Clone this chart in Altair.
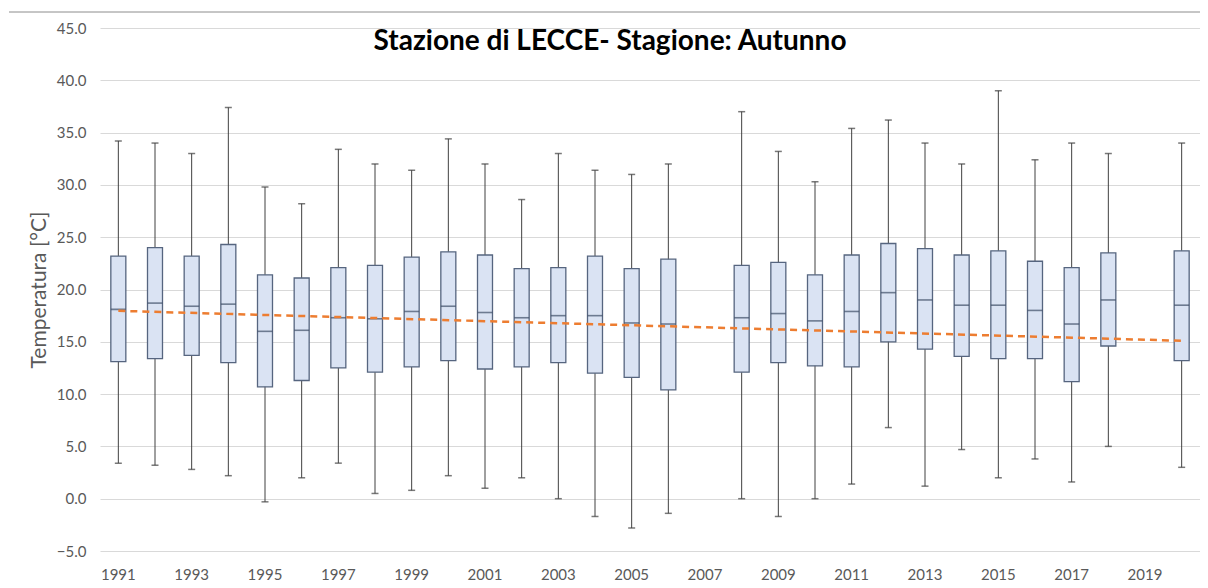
import altair as alt
import pandas as pd

# Categories on the axis (2007 and 2019 have no data)
all_years = ["1991", "1992", "1993", "1994", "1995", "1996", "1997", "1998", "1999", "2000",
             "2001", "2002", "2003", "2004", "2005", "2006", "2007", "2008", "2009", "2010",
             "2011", "2012", "2013", "2014", "2015", "2016", "2017", "2018", "2019", "2020"]
label_years = ["1991", "1993", "1995", "1997", "1999", "2001", "2003", "2005", "2007",
               "2009", "2011", "2013", "2015", "2017", "2019"]

years = ["1991", "1992", "1993", "1994", "1995", "1996", "1997", "1998", "1999", "2000",
         "2001", "2002", "2003", "2004", "2005", "2006", "2008", "2009", "2010",
         "2011", "2012", "2013", "2014", "2015", "2016", "2017", "2018", "2020"]
y_max = [34.2, 34.0, 33.0, 37.4, 29.8, 28.2, 33.4, 32.0, 31.4, 34.4,
         32.0, 28.6, 33.0, 31.4, 31.0, 32.0, 37.0, 33.2, 30.3,
         35.4, 36.2, 34.0, 32.0, 39.0, 32.4, 34.0, 33.0, 34.0]
y_q3 = [23.2, 24.0, 23.2, 24.3, 21.4, 21.1, 22.1, 22.3, 23.1, 23.6,
        23.3, 22.0, 22.1, 23.2, 22.0, 22.9, 22.3, 22.6, 21.4,
        23.3, 24.4, 23.9, 23.3, 23.7, 22.7, 22.1, 23.5, 23.7]
y_med = [18.1, 18.7, 18.4, 18.6, 16.0, 16.1, 17.3, 17.2, 17.9, 18.4,
         17.8, 17.3, 17.5, 17.5, 16.8, 16.7, 17.3, 17.7, 17.0,
         17.9, 19.7, 19.0, 18.5, 18.5, 18.0, 16.7, 19.0, 18.5]
y_q1 = [13.1, 13.4, 13.7, 13.0, 10.7, 11.3, 12.5, 12.1, 12.6, 13.2,
        12.4, 12.6, 13.0, 12.0, 11.6, 10.4, 12.1, 13.0, 12.7,
        12.6, 15.0, 14.3, 13.6, 13.4, 13.4, 11.2, 14.6, 13.2]
y_min = [3.4, 3.2, 2.8, 2.2, -0.3, 2.0, 3.4, 0.5, 0.8, 2.2,
         1.0, 2.0, 0.0, -1.7, -2.8, -1.4, 0.0, -1.7, 0.0,
         1.4, 6.8, 1.2, 4.7, 2.0, 3.8, 1.6, 5.0, 3.0]

trend_years = ["1991", "2020"]
trend_vals = [17.96, 15.1]

y_ticks = [-5, 0, 5, 10, 15, 20, 25, 30, 35, 40, 45]

df = pd.DataFrame({"year": years, "min": y_min, "q1": y_q1, "med": y_med,
                   "q3": y_q3, "max": y_max})
trend = pd.DataFrame({"year": trend_years, "t": trend_vals})

FONT = "Lato"
W, H = 1100, 523

xscale = alt.Scale(domain=all_years, paddingInner=0, paddingOuter=0)
yscale = alt.Scale(domain=[-5, 45], nice=False, zero=False)

x_enc = alt.X("year:N", scale=xscale, sort=None,
              axis=alt.Axis(title=None, values=label_years, labelAngle=0, ticks=False,
                            domain=False, grid=False, labelFont=FONT, labelFontSize=15,
                            labelColor="#595959", labelPadding=16))

base = alt.Chart(df)

whisk = base.mark_rule(color="#404040", strokeWidth=1).encode(
    x=x_enc,
    y=alt.Y("min:Q", scale=yscale,
            axis=alt.Axis(title="Temperatura [°C]", values=y_ticks, format=".1f",
                          grid=True, gridColor="#d9d9d9", gridWidth=1, ticks=False,
                          domain=False, labelFont=FONT, labelFontSize=15,
                          labelColor="#595959", labelPadding=14,
                          titleFont=FONT, titleFontSize=21, titleFontWeight="normal",
                          titleColor="#595959", titlePadding=7)),
    y2="max:Q",
)

cap_min = base.mark_tick(color="#404040", size=7, thickness=1.5).encode(
    x=alt.X("year:N", scale=xscale, sort=None), y=alt.Y("min:Q", scale=yscale))
cap_max = base.mark_tick(color="#404040", size=7, thickness=1.5).encode(
    x=alt.X("year:N", scale=xscale, sort=None), y=alt.Y("max:Q", scale=yscale))

box = base.mark_bar(size=15, color="#dae3f3", stroke="#56657f", strokeWidth=1.3).encode(
    x=alt.X("year:N", scale=xscale, sort=None),
    y=alt.Y("q1:Q", scale=yscale), y2="q3:Q")

med = base.mark_tick(color="#3f4e66", size=15, thickness=1.6).encode(
    x=alt.X("year:N", scale=xscale, sort=None), y=alt.Y("med:Q", scale=yscale))

trend_line = alt.Chart(trend).mark_line(color="#ED7D31", strokeWidth=2.5,
                                        strokeDash=[7, 5]).encode(
    x=alt.X("year:N", scale=xscale, sort=None), y=alt.Y("t:Q", scale=yscale))

title_df = pd.DataFrame({"label": ["Stazione di LECCE- Stagione: Autunno"]})
title = alt.Chart(title_df).mark_text(font=FONT, fontSize=28, fontWeight="bold",
                                      color="#000000", align="center",
                                      baseline="middle").encode(
    text="label:N", x=alt.value(510), y=alt.value(14))

frame_top = alt.Chart(title_df).mark_rule(color="#8c8c8c", strokeWidth=1).encode(
    x=alt.value(-91), x2=alt.value(1100), y=alt.value(-16))

chart = alt.layer(frame_top, whisk, cap_min, cap_max, box, med,
                  trend_line, title).properties(
    width=W, height=H,
    autosize=alt.AutoSizeParams(type="none"),
    padding={"left": 92, "top": 20, "right": 0, "bottom": 34},
).configure(background="white").configure_view(stroke=None)

chart.save("out.html", embed_options={"renderer": "svg", "actions": False})
